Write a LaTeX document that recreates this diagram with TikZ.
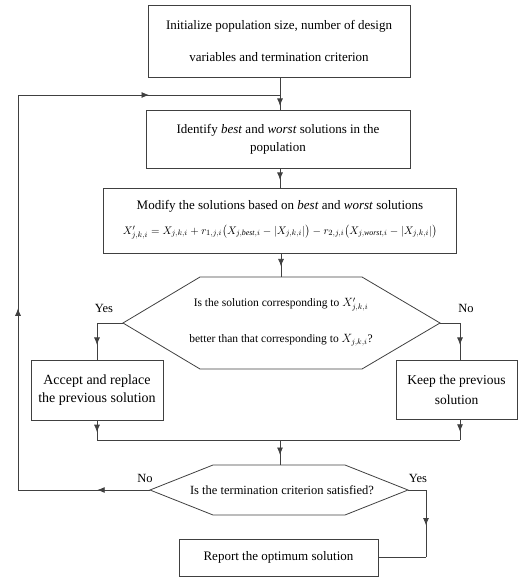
\documentclass[tikz,border=0pt]{standalone}
\usepackage{amsmath}
\usepackage{fontspec}
\setmainfont{Liberation Serif}
\usetikzlibrary{arrows.meta,decorations.markings}
\begin{document}
\begin{tikzpicture}[x=1pt,y=-1pt,
  line/.style={draw=black!75,line width=0.8pt},
  arr/.style={line,postaction={decorate},decoration={markings,mark=at position #1 with {\arrow{Latex[length=7.5pt,width=6pt]}}}},
  box/.style={draw=black!75,line width=0.9pt,fill=white,align=center,inner sep=0pt,font=\fontsize{13pt}{18pt}\selectfont},
  txt/.style={align=center,inner sep=0pt,font=\fontsize{11.5pt}{18pt}\selectfont},
  lbl/.style={inner sep=0pt,font=\fontsize{12.5pt}{14pt}\selectfont}]
\useasboundingbox (0,0) rectangle (518,577);
% boxes
\node[box,minimum width=262,minimum height=72,font=\fontsize{13pt}{32pt}\selectfont] (init) at (279,41)
  {Initialize population size, number of design\\variables and termination criterion};
\node[box,minimum width=264,minimum height=58] (ident) at (278,139)
  {Identify \textit{best} and \textit{worst} solutions in the\\population};
\node[box,minimum width=353,minimum height=65] (modify) at (279.5,220.5) {};
\node[txt,font=\fontsize{13pt}{16pt}\selectfont] (modt) at (280,206)
  {Modify the solutions based on \textit{best} and \textit{worst} solutions};
\node[txt,font=\fontsize{11.3pt}{14pt}\selectfont] (modf) at (280,232)
  {$X'_{j,k,i}=X_{j,k,i}+r_{1,j,i}\bigl(X_{j,\mathit{best},i}-\lvert X_{j,k,i}\rvert\bigr)-r_{2,j,i}\bigl(X_{j,\mathit{worst},i}-\lvert X_{j,k,i}\rvert\bigr)$};
% hexagon 1
\coordinate (h1tl) at (200,277);
\coordinate (h1tr) at (362,277);
\coordinate (h1r) at (440,323);
\coordinate (h1br) at (362,369);
\coordinate (h1bl) at (200,369);
\coordinate (h1l) at (123,323);
\draw[line] (h1tl) -- (h1tr) -- (h1r) -- (h1br) -- (h1bl) -- (h1l) -- cycle;
\node[txt,font=\fontsize{11.5pt}{36pt}\selectfont] (q1) at (281,322)
  {Is the solution corresponding to $X'_{j,k,i}$\\better than that corresponding to $X_{j,k,i}$?};
\coordinate (h1top) at (281,277);
% side boxes
\node[box,minimum width=132,minimum height=60,font=\fontsize{14pt}{18pt}\selectfont] (accept) at (97,390)
  {Accept and replace\\the previous solution};
\node[box,minimum width=121,minimum height=59,font=\fontsize{13.5pt}{20pt}\selectfont] (keep) at (456.5,389.5)
  {Keep the previous\\solution};
% hexagon 2
\coordinate (h2tl) at (213,465);
\coordinate (h2tr) at (345,465);
\coordinate (h2r) at (408,490);
\coordinate (h2br) at (345,515);
\coordinate (h2bl) at (213,515);
\coordinate (h2l) at (150,490);
\draw[line] (h2tl) -- (h2tr) -- (h2r) -- (h2br) -- (h2bl) -- (h2l) -- cycle;
\node[txt,font=\fontsize{12.5pt}{18pt}\selectfont] (q2) at (282,490) {Is the termination criterion satisfied?};
\coordinate (h2top) at (280,465);
\node[box,minimum width=199,minimum height=37] (report) at (278.5,557.5)
  {Report the optimum solution};
% connector helper coordinates
\coordinate (loopjoin) at (280,95);
\coordinate (yesc) at (97,323);
\coordinate (noc) at (460,323);
\coordinate (mergeL) at (97,440);
\coordinate (mergeR) at (460,440);
\coordinate (mergeM) at (280,440);
\coordinate (loopA) at (18,490);
\coordinate (loopB) at (18,95);
\coordinate (yes2) at (426,490);
\coordinate (yes2b) at (426,557);
% connectors
\draw[line] (init.south -| loopjoin) -- (loopjoin);
\draw[arr=0.75] (loopjoin) -- (ident.north -| loopjoin);
\draw[arr=0.6] (ident.south -| loopjoin) -- (modify.north -| loopjoin);
\draw[arr=0.55] (modify.south -| h1top) -- (h1top);
\draw[line] (h1l) -- (yesc);
\draw[arr=0.6] (yesc) -- (accept.north -| yesc);
\draw[line] (h1r) -- (noc);
\draw[arr=0.6] (noc) -- (keep.north -| noc);
\draw[arr=0.6] (accept.south -| mergeL) -- (mergeL);
\draw[arr=0.6] (keep.south -| mergeR) -- (mergeR);
\draw[line] (mergeL) -- (mergeR);
\draw[arr=0.6] (mergeM) -- (h2top);
\draw[arr=0.4] (h2l) -- (loopA);
\draw[arr=0.46] (loopA) -- (loopB);
\draw[arr=0.5] (loopB) -- (loopjoin);
\draw[line] (h2r) -- (yes2);
\draw[arr=0.53] (yes2) -- (yes2b);
\draw[line] (yes2b) -- (report.east |- yes2b);
% labels
\node[lbl] (yes1l) at (104,308) {Yes};
\node[lbl] (no1l) at (466,308) {No};
\node[lbl] (no2l) at (145,478) {No};
\node[lbl] (yes2l) at (418,478) {Yes};
\end{tikzpicture}
\end{document}
